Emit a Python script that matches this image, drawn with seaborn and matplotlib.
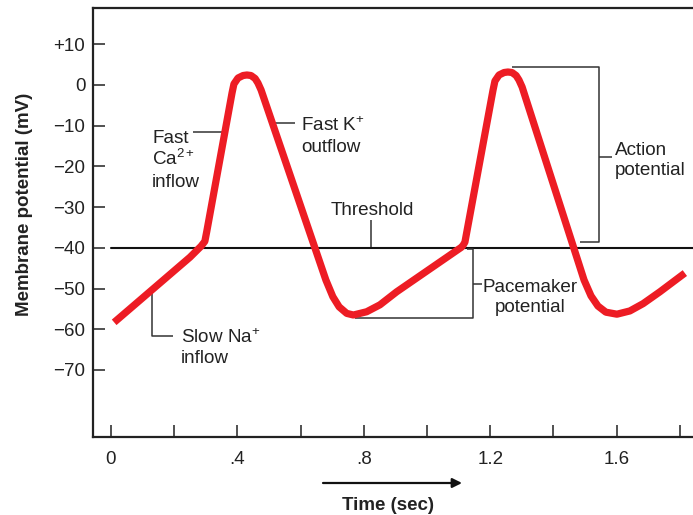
import matplotlib
matplotlib.use("Agg")
import matplotlib.pyplot as plt
import pandas as pd
import seaborn as sns

# ---- data ----
time_s = [0.01, 0.25, 0.285, 0.297, 0.303,
          0.383, 0.389, 0.402, 0.418, 0.430, 0.443, 0.456, 0.465, 0.475,
          0.680, 0.702, 0.722, 0.746, 0.767, 0.809, 0.851, 0.904,
          1.108, 1.114, 1.120,
          1.209, 1.215, 1.228, 1.244, 1.256, 1.269, 1.282, 1.291, 1.301,
          1.497, 1.519, 1.541, 1.566, 1.601, 1.642, 1.684, 1.737, 1.816]
membrane_mv = [-58.3, -42.3, -39.6, -38.4, -36.0,
               -1.97, 0.25, 1.72, 2.33, 2.46, 2.33, 1.60, 0.49, -1.23,
               -47.9, -52.0, -54.5, -56.1, -56.5, -55.7, -54.0, -50.8,
               -39.9, -39.4, -38.6,
               -1.23, 0.98, 2.46, 3.07, 3.19, 3.07, 2.33, 1.23, -0.49,
               -47.9, -51.8, -54.3, -55.8, -56.3, -55.5, -53.7, -50.8, -46.2]
threshold_mv = -40
x_ticks = [0, 0.2, 0.4, 0.6, 0.8, 1.0, 1.2, 1.4, 1.6, 1.8]
x_tick_labels = ["0", "", ".4", "", ".8", "", "1.2", "", "1.6", ""]
y_ticks = [10, 0, -10, -20, -30, -40, -50, -60, -70]
y_tick_labels = ["+10", "0", "\u221210", "\u221220", "\u221230", "\u221240",
                 "\u221250", "\u221260", "\u221270"]

# ---- style ----
sns.set_style("white")
plt.rcParams["font.family"] = ["Liberation Sans", "DejaVu Sans"]
plt.rcParams["mathtext.fontset"] = "custom"
plt.rcParams["mathtext.rm"] = "Liberation Sans"
plt.rcParams["mathtext.it"] = "Liberation Sans"
plt.rcParams["mathtext.default"] = "regular"

W, H = 693, 515
fig = plt.figure(figsize=(W / 100, H / 100), dpi=100)
ax = fig.add_axes([93 / W, 1 - 437 / H, 1 - 93 / W, (437 - 8) / H])

X0, SX, Y0, SY = 111, 316, 85, 4.071
def tx(px):
    return (px - X0) / SX
def vy(py):
    return (Y0 - py) / SY

ax.set_xlim(tx(93), tx(W))
ax.set_ylim(vy(437), vy(8))

# threshold line
ax.plot([0, tx(W)], [threshold_mv, threshold_mv], color="#111111", lw=1.5, zorder=2)

df = pd.DataFrame({"time": time_s, "mv": membrane_mv})
sns.lineplot(data=df, x="time", y="mv", sort=False, estimator=None, ax=ax,
             color="#ED1C24", lw=5.2, solid_capstyle="butt",
             solid_joinstyle="round", zorder=3)

ax.set_xticks(x_ticks)
ax.set_xticklabels(x_tick_labels)
ax.set_yticks(y_ticks)
ax.set_yticklabels(y_tick_labels)
ax.set_xlabel("")
ax.set_ylabel("")
ax.tick_params(axis="both", direction="in", length=8.5, width=1.1,
               color="#222222", labelsize=13.5, labelcolor="#222222",
               bottom=True, left=True, top=False, right=False)
ax.tick_params(axis="y", pad=5.5)
ax.tick_params(axis="x", pad=10)
for s in ["left", "bottom", "top"]:
    ax.spines[s].set_linewidth(1.6)
    ax.spines[s].set_color("#222222")
ax.spines["right"].set_visible(False)

# ---- annotations ----
lc = "#333333"
lw = 1.1
fs = 13.6
tc = "#222222"

def seg(xs, ys):
    ax.plot([tx(x) for x in xs], [vy(y) for y in ys], color=lc, lw=lw,
            zorder=2, solid_capstyle="butt")

# Slow Na+ inflow
seg([152, 152, 173], [293, 336, 336])
ax.text(tx(181), vy(343), "Slow Na$^{+}$", fontsize=fs, color=tc, va="baseline")
ax.text(tx(181), vy(363), "inflow", fontsize=fs, color=tc, va="baseline")

# Fast Ca2+ inflow
seg([193, 224], [132, 132])
ax.text(tx(152), vy(143), "Fast", fontsize=fs, color=tc, va="baseline")
ax.text(tx(152), vy(165), "Ca$^{2+}$", fontsize=fs, color=tc, va="baseline")
ax.text(tx(152), vy(187), "inflow", fontsize=fs, color=tc, va="baseline")

# Fast K+ outflow
seg([273, 295], [123, 123])
ax.text(tx(301), vy(131), "Fast K$^{+}$", fontsize=fs, color=tc, va="baseline")
ax.text(tx(301), vy(152), "outflow", fontsize=fs, color=tc, va="baseline")

# Threshold
seg([371, 371], [220, 247])
ax.text(tx(372), vy(215), "Threshold", fontsize=fs, color=tc, ha="center", va="baseline")

# Action potential bracket
seg([512, 599, 599, 580], [67, 67, 242, 242])
seg([599, 612], [157, 157])
ax.text(tx(615), vy(155), "Action", fontsize=fs, color=tc, va="baseline")
ax.text(tx(615), vy(175), "potential", fontsize=fs, color=tc, va="baseline")

# Pacemaker potential bracket
seg([467, 473, 473, 355], [249, 249, 318, 318])
seg([473, 482], [284, 284])
ax.text(tx(530), vy(292), "Pacemaker", fontsize=fs, color=tc, ha="center", va="baseline")
ax.text(tx(530), vy(312), "potential", fontsize=fs, color=tc, ha="center", va="baseline")

# axis titles
fig.text(25 / W, 1 - 204 / H, "Membrane potential (mV)", rotation=90,
         fontsize=13.5, fontweight="bold", color=tc, ha="center", va="center")
fig.text(388 / W, 1 - 506 / H, "Time (sec)", fontsize=13.5, fontweight="bold",
         color=tc, ha="center", va="center")
ax.annotate("", xy=(462, H - 483), xytext=(323, H - 483),
            xycoords="figure pixels", textcoords="figure pixels",
            arrowprops=dict(arrowstyle="-|>", color="#111111", lw=1.6,
                            mutation_scale=14, shrinkA=0, shrinkB=0))

fig.savefig("out.png", dpi=100)
